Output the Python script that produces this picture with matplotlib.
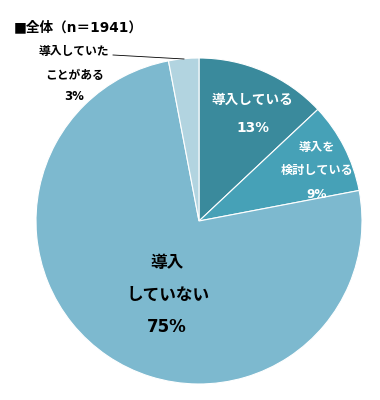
import matplotlib
matplotlib.use('Agg')
import matplotlib.pyplot as plt

# data
categories = ['導入している', '導入を検討している', '導入していない', '導入していたことがある']
shares = [13, 9, 75, 3]
colors = ['#3a8a9c', '#46a1b7', '#7db9cf', '#b2d4e0']

# DejaVu for latin/digits (Verdana-like), Noto CJK for the japanese glyphs
plt.rcParams['font.family'] = ['DejaVu Sans', 'Noto Sans CJK JP']

fig = plt.figure(figsize=(3.8, 4.0), dpi=100)
ax = fig.add_axes([0, 0, 1, 1])

# pie in pixel-like coords (y up)
ax.pie(shares, colors=colors, startangle=90, counterclock=False,
       center=(199, 400 - 221), radius=163,
       wedgeprops=dict(edgecolor='white', linewidth=0.8))

# pie resets limits, so set them afterwards
ax.set_xlim(0, 380)
ax.set_ylim(0, 400)
ax.set_aspect('equal')
ax.axis('off')

def txt(x, y, s, size, color='black'):
    ax.text(x, 400 - y, s, ha='center', va='center', fontsize=size,
            fontweight='bold', color=color)

# title
ax.text(14, 400 - 27, '■全体（n＝1941）', ha='left', va='center',
        fontsize=9.8, fontweight='bold')

# labels
txt(252, 100, '導入している', 9.8, 'white')
txt(253, 128, '13%', 9.8, 'white')
txt(317, 147, '導入を', 8.7, 'white')
txt(317, 170, '検討している', 8.7, 'white')
txt(317, 195, '9%', 8.7, 'white')
txt(167, 263, '導入', 12)
txt(168, 295, 'していない', 12)
txt(167, 327, '75%', 12)
txt(74, 52, '導入していた', 8.5)
txt(75, 75, 'ことがある', 8.5)
txt(74, 97, '3%', 8.5)

# leader line for the small slice
ax.plot([113, 184], [400 - 55, 400 - 59], color='black', linewidth=0.6)

fig.savefig('out.png', dpi=100)
